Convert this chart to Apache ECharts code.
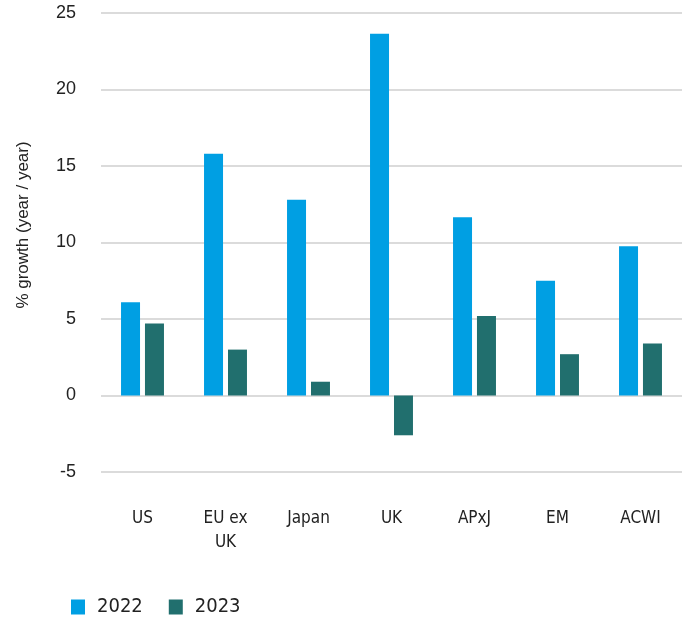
<!DOCTYPE html>
<html>
<head>
<meta charset="utf-8">
<script src="https://cdn.jsdelivr.net/npm/echarts@6/dist/echarts.min.js"></script>
<style>
  html, body { margin: 0; padding: 0; background: #ffffff; }
  #chart { width: 692px; height: 620px; }
</style>
</head>
<body>
<div id="chart"></div>
<script>
var regions = ['US', 'EU ex\nUK', 'Japan', 'UK', 'APxJ', 'EM', 'ACWI']
var growth2022 = [6.1, 15.8, 12.8, 23.65, 11.65, 7.5, 9.75]
var growth2023 = [4.7, 3.0, 0.9, -2.6, 5.2, 2.7, 3.4]
var yTicks = [-5, 0, 5, 10, 15, 20, 25]

// narrow labels like the original, plain sans for the numbers
var narrow = '"DejaVu Sans Condensed", "Liberation Sans Narrow", sans-serif'
var plain = '"Liberation Sans", Arial, sans-serif'

var chart = echarts.init(document.getElementById('chart'))
chart.setOption({
  animation: false,
  grid: {
    left: 101,
    right: 10,
    top: 13,
    bottom: 148
  },
  legend: {
    left: 71,
    top: 597,
    padding: 0,
    itemWidth: 14,
    itemHeight: 15,
    itemGap: 26,
    icon: 'rect',
    textStyle: { fontFamily: narrow, fontSize: 20, color: '#222', padding: [0, 0, 0, 7] },
    data: ['2022', '2023']
  },
  xAxis: {
    type: 'category',
    data: regions,
    axisLine: { show: false },
    axisTick: { show: false },
    axisLabel: {
      margin: 35,
      fontFamily: narrow,
      fontSize: 17,
      color: '#222',
      lineHeight: 24,
      verticalAlign: 'top'
    }
  },
  yAxis: {
    type: 'value',
    min: yTicks[0],
    max: yTicks[yTicks.length - 1],
    interval: 5,
    name: '% growth (year / year)',
    nameLocation: 'middle',
    nameGap: 69,
    nameTextStyle: { fontFamily: plain, fontSize: 17, color: '#222', padding: [0, 0, 0, 35] },
    axisLine: { show: false },
    axisTick: { show: false },
    axisLabel: { margin: 25, fontFamily: plain, fontSize: 18, color: '#222' },
    splitLine: { lineStyle: { color: '#cfcfcf', width: 1.5 } }
  },
  series: [
    {
      name: '2022',
      type: 'bar',
      data: growth2022,
      barWidth: 19,
      barGap: '26%',
      itemStyle: { color: '#009FE3' }
    },
    {
      name: '2023',
      type: 'bar',
      data: growth2023,
      barWidth: 19,
      itemStyle: { color: '#216F6E' }
    }
  ]
})
</script>
</body>
</html>
